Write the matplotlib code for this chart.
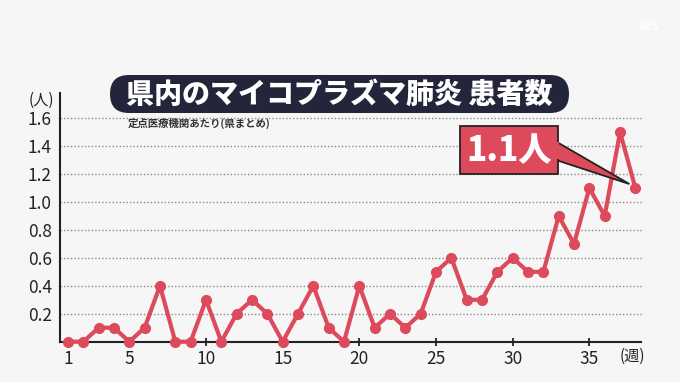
import matplotlib
matplotlib.use("Agg")
import matplotlib.pyplot as plt
from matplotlib.patches import FancyBboxPatch, Rectangle, Polygon
from matplotlib.transforms import Affine2D

plt.rcParams['font.family'] = ['Noto Sans CJK JP', 'DejaVu Sans']

weeks = list(range(1, 39))
values = [0, 0, 0.1, 0.1, 0, 0.1, 0.4, 0, 0, 0.3,
          0, 0.2, 0.3, 0.2, 0, 0.2, 0.4, 0.1, 0, 0.4,
          0.1, 0.2, 0.1, 0.2, 0.5, 0.6, 0.3, 0.3, 0.5, 0.6,
          0.5, 0.5, 0.9, 0.7, 1.1, 0.9, 1.5, 1.1]
xticks = [1, 5, 10, 15, 20, 25, 30, 35]
yticks = [0.2, 0.4, 0.6, 0.8, 1.0, 1.2, 1.4, 1.6]
ytick_labels = ["0.2", "0.4", "0.6", "0.8", "1.0", "1.2", "1.4", "1.6"]
title = "県内のマイコプラズマ肺炎 患者数"
subtitle = "定点医療機関あたり(県まとめ)"
callout = "1.1人"

W, H = 680, 382
BG = "#f6f6f6"
RED = "#dc4a5c"
DARK = "#23253a"
TXT = "#222222"

fig = plt.figure(figsize=(W / 100, H / 100), dpi=100, facecolor=BG)

# pixel (top-left origin) transform
pix = Affine2D().scale(1 / W, -1 / H).translate(0, 1) + fig.transFigure

ax = fig.add_axes([60 / W, (H - 341.7) / H, (641.5 - 60) / W, (341.7 - 93) / H])
ax.set_facecolor(BG)
ax.set_xlim(0.48, 38.4)
ax.set_ylim(0, 1.78)

for y in yticks:
    ax.axhline(y, color="#8a8a8a", lw=1.0, ls=(0, (1, 1.5)), zorder=1)

ax.plot(weeks, values, color=RED, lw=3.0, marker="o", ms=7,
        mfc=RED, mec=RED, zorder=4, clip_on=False, solid_joinstyle="round")

for s in ["top", "right"]:
    ax.spines[s].set_visible(False)
for s in ["left", "bottom"]:
    ax.spines[s].set_color(TXT)
    ax.spines[s].set_linewidth(1.5)
    ax.spines[s].set_zorder(3)

ax.set_xticks(xticks)
ax.set_xticklabels([str(t) for t in xticks])
ax.set_yticks(yticks)
ax.set_yticklabels(ytick_labels)
ax.tick_params(axis="x", direction="inout", length=6, width=1.3, color=TXT,
               labelsize=12.5, labelcolor=TXT, pad=3)
ax.tick_params(axis="y", length=0, labelsize=12.5, labelcolor=TXT, pad=6)

# axis unit labels
fig.text(41, 100, "(人)", transform=pix, ha="center", va="center",
         fontsize=11, color=TXT)
fig.text(632, 356, "(週)", transform=pix, ha="center", va="center",
         fontsize=11, color=TXT)

# title box
tb = FancyBboxPatch((110 + 19, 75 + 19), 569 - 110 - 38, 0.01,
                    boxstyle="round,pad=19,rounding_size=19",
                    transform=pix, facecolor=DARK, edgecolor="none", zorder=5)
fig.patches.append(tb)
fig.text(339.5, 94.5, title, transform=pix, ha="center", va="center",
         fontsize=20.2, fontweight="heavy", color="white", zorder=6)
fig.text(128, 123.5, subtitle, transform=pix, ha="left", va="center",
         fontsize=7.5, fontweight="bold", color="#333333", zorder=6)

# callout pointer + box
fig.canvas.draw()
tip_disp = ax.transData.transform((weeks[-1], values[-1]))
tip_pix = pix.inverted().transform(tip_disp)
tip = (tip_pix[0] - 6, tip_pix[1] - 4)
tri = Polygon([(556, 141.5), (556, 160), tip], closed=True, transform=pix,
              facecolor=RED, edgecolor=TXT, lw=1.3, zorder=5,
              joinstyle="miter")
fig.patches.append(tri)
rect = Rectangle((460, 126), 98, 48, transform=pix, facecolor=RED,
                 edgecolor=TXT, lw=1.3, zorder=6)
fig.patches.append(rect)
cover = Rectangle((556.5, 142.3), 2.5, 17, transform=pix, facecolor=RED,
                  edgecolor="none", zorder=7)
fig.patches.append(cover)
fig.text(509, 151, callout, transform=pix, ha="center", va="center",
         fontsize=24, fontweight="heavy", color="white", zorder=8)

# faint logo
fig.text(648, 27, "SBS", transform=pix, ha="center", va="center",
         fontsize=8, fontweight="bold", color="white", alpha=0.9)

fig.savefig("out.png", dpi=100, facecolor=BG)
